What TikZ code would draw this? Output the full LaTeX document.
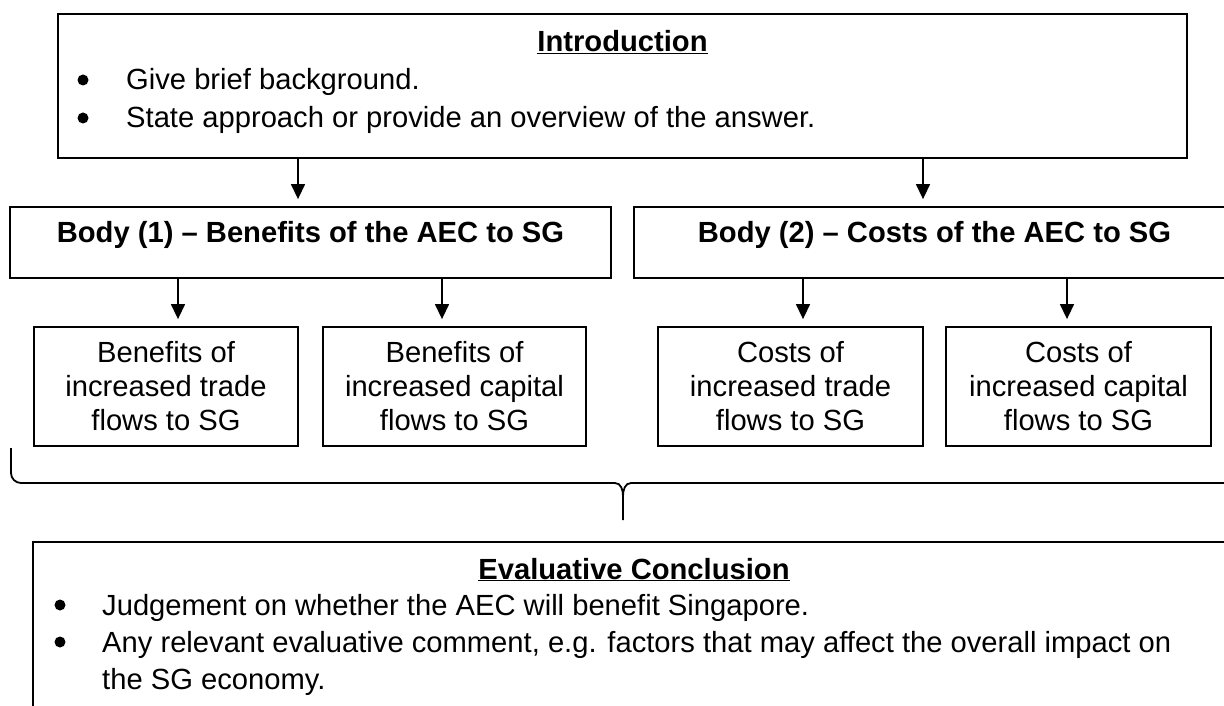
\documentclass[tikz,border=0pt]{standalone}
\usepackage{fontspec}
\setmainfont{Liberation Sans}
\usetikzlibrary{arrows.meta}
\begin{document}
\begin{tikzpicture}[x=1pt,y=-1pt,
  box/.style={draw, line width=1.8pt, inner sep=0pt},
  subbox/.style={box, minimum height=119pt, align=center, font=\fontsize{29.17}{34}\selectfont},
  txt/.style={inner sep=0pt, font=\fontsize{29.17}{35}\selectfont},
  bold/.style={txt, font=\fontsize{29.17}{35}\selectfont\bfseries},
  dot/.style={circle, fill=black, inner sep=0pt, minimum size=11pt},
  arr/.style={line width=1.4pt, -{Triangle[length=15pt,width=14pt]}, shorten >=7pt},
  brace/.style={line width=1.8pt}]
\useasboundingbox (0,0) rectangle (1224,706);
\clip (0,0) rectangle (1224,706);
% boxes
\node[box, minimum width=1129pt, minimum height=144pt] (intro) at (622.5,86) {};
\node[box, minimum width=601pt, minimum height=71pt] (body1) at (310.5,242.5) {};
\node[box, minimum width=601pt, minimum height=71pt] (body2) at (934.5,242.5) {};
\node[subbox, minimum width=264pt] (sub1) at (166,386.5) {Benefits of\\increased trade\\flows to SG};
\node[subbox, minimum width=263pt] (sub2) at (454.5,386.5) {Benefits of\\increased capital\\flows to SG};
\node[subbox, minimum width=265pt] (sub3) at (790.5,386.5) {Costs of\\increased trade\\flows to SG};
\node[subbox, minimum width=265pt] (sub4) at (1078.5,386.5) {Costs of\\increased capital\\flows to SG};
\node[box, minimum width=1202pt, minimum height=190pt] (eval) at (634,637) {};
% intro text
\node[bold, anchor=base] (introT) at (622.5,52) {\underline{Introduction}};
\node[dot] (ib1) at (83,80) {};
\node[txt, anchor=base west] (il1) at (126,90) {Give brief background.};
\node[dot] (ib2) at (83,118) {};
\node[txt, anchor=base west] (il2) at (126,128) {State approach or provide an overview of the answer.};
% body titles
\node[bold, anchor=base] (b1T) at (310.5,242) {Body (1) – Benefits of the AEC to SG};
\node[bold, anchor=base] (b2T) at (934.5,242) {Body (2) – Costs of the AEC to SG};
% eval text
\node[bold, anchor=base] (evalT) at (634,579) {\underline{Evaluative Conclusion}};
\node[dot] (eb1) at (60,605) {};
\node[txt, anchor=base west] (el1) at (102,615) {Judgement on whether the AEC will benefit Singapore.};
\node[dot] (eb2) at (60,642) {};
\node[txt, anchor=base west] (el2) at (102,652) {Any relevant evaluative comment, e.g. factors that may affect the overall impact on};
\node[txt, anchor=base west] (el3) at (102,689) {the SG economy.};
% arrows
\draw[arr] (intro.south -| 298,0) -- (body1.north -| 298,0);
\draw[arr] (intro.south -| 923,0) -- (body2.north -| 923,0);
\draw[arr] (body1.south -| 178,0) -- (sub1.north -| 178,0);
\draw[arr] (body1.south -| 442,0) -- (sub2.north -| 442,0);
\draw[arr] (body2.south -| 803,0) -- (sub3.north -| 803,0);
\draw[arr] (body2.south -| 1067,0) -- (sub4.north -| 1067,0);
% brace
\coordinate (brL) at (11,448);
\coordinate (brTip) at (623,520);
\coordinate (brR) at (1240,483);
\draw[brace] (brL) -- (11,473) to[out=-90,in=180] (21,483) -- (615,483)
  to[out=0,in=90] (623,496) -- (brTip);
\draw[brace] (623,496) to[out=90,in=180] (631,483) -- (brR);
\end{tikzpicture}
\end{document}
